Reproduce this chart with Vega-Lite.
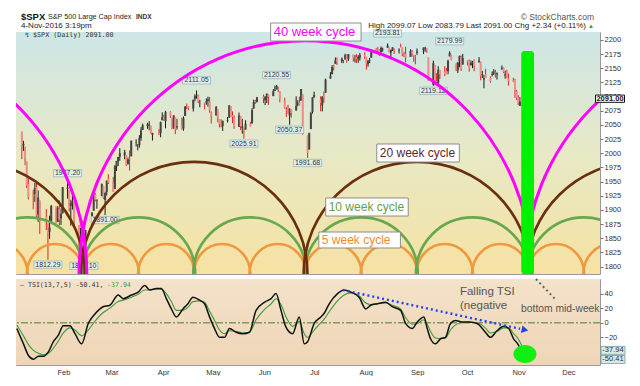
{
"$schema": "https://vega.github.io/schema/vega-lite/v6.json",
"background": "white",
"padding": {"left": 13, "top": 11, "right": 0, "bottom": 0},
"spacing": 2,
"config": {
  "font": "Liberation Sans",
  "view": {"stroke": "#9a9a9a", "strokeWidth": 1},
  "axis": {"labelFont": "Liberation Sans", "labelFontSize": 7.5, "labelColor": "#333333", "tickColor": "#777777", "domain": false, "title": null, "gridColor": "#9c9c9c", "gridDash": [1, 2], "gridOpacity": 0.55, "labelOverlap": false}
},
"datasets": {
  "px": [
{"d":"2016-01-04","o":2038.2,"h":2038.2,"l":1989.68,"c":2012.66},
{"d":"2016-01-05","o":2013.78,"h":2021.94,"l":2004.17,"c":2016.71},
{"d":"2016-01-06","o":2011.71,"h":2011.71,"l":1979.05,"c":1990.26},
{"d":"2016-01-07","o":1985.32,"h":1985.32,"l":1938.83,"c":1943.09},
{"d":"2016-01-08","o":1945.97,"h":1960.4,"l":1918.46,"c":1922.03},
{"d":"2016-01-11","o":1926.12,"h":1935.65,"l":1901.1,"c":1923.67},
{"d":"2016-01-12","o":1927.83,"h":1947.38,"l":1914.35,"c":1938.68},
{"d":"2016-01-13","o":1940.34,"h":1950.33,"l":1886.41,"c":1890.28},
{"d":"2016-01-14","o":1891.68,"h":1934.47,"l":1878.93,"c":1921.84},
{"d":"2016-01-15","o":1916.68,"h":1916.68,"l":1857.83,"c":1880.33},
{"d":"2016-01-19","o":1888.66,"h":1901.44,"l":1864.6,"c":1881.33},
{"d":"2016-01-20","o":1876.18,"h":1876.18,"l":1812.29,"c":1859.33},
{"d":"2016-01-21","o":1861.46,"h":1889.85,"l":1848.98,"c":1868.99},
{"d":"2016-01-22","o":1877.4,"h":1908.85,"l":1877.4,"c":1906.9},
{"d":"2016-01-25","o":1906.28,"h":1906.28,"l":1875.97,"c":1877.08},
{"d":"2016-01-26","o":1878.79,"h":1906.73,"l":1878.79,"c":1903.63},
{"d":"2016-01-27","o":1902.52,"h":1916.99,"l":1872.7,"c":1882.95},
{"d":"2016-01-28","o":1885.22,"h":1902.96,"l":1873.65,"c":1893.36},
{"d":"2016-01-29","o":1894.0,"h":1940.24,"l":1894.0,"c":1940.24},
{"d":"2016-02-01","o":1936.94,"h":1947.2,"l":1920.03,"c":1939.38},
{"d":"2016-02-02","o":1935.26,"h":1935.26,"l":1897.29,"c":1903.03},
{"d":"2016-02-03","o":1907.07,"h":1918.01,"l":1872.23,"c":1912.53},
{"d":"2016-02-04","o":1911.67,"h":1927.35,"l":1900.52,"c":1915.45},
{"d":"2016-02-05","o":1913.07,"h":1913.07,"l":1872.65,"c":1880.05},
{"d":"2016-02-08","o":1873.25,"h":1873.25,"l":1828.46,"c":1853.44},
{"d":"2016-02-09","o":1848.46,"h":1868.25,"l":1834.94,"c":1852.21},
{"d":"2016-02-10","o":1857.1,"h":1881.6,"l":1850.32,"c":1851.86},
{"d":"2016-02-11","o":1847.0,"h":1847.0,"l":1810.1,"c":1829.08},
{"d":"2016-02-12","o":1833.4,"h":1864.78,"l":1833.4,"c":1864.78},
{"d":"2016-02-16","o":1871.44,"h":1895.77,"l":1871.44,"c":1895.58},
{"d":"2016-02-17","o":1898.8,"h":1930.68,"l":1898.8,"c":1926.82},
{"d":"2016-02-18","o":1927.57,"h":1930.0,"l":1915.09,"c":1917.83},
{"d":"2016-02-19","o":1916.74,"h":1918.78,"l":1902.17,"c":1917.78},
{"d":"2016-02-22","o":1924.44,"h":1946.7,"l":1924.44,"c":1945.5},
{"d":"2016-02-23","o":1942.38,"h":1942.38,"l":1919.44,"c":1921.27},
{"d":"2016-02-24","o":1917.56,"h":1932.08,"l":1891.0,"c":1929.8},
{"d":"2016-02-25","o":1931.87,"h":1951.83,"l":1925.41,"c":1951.7},
{"d":"2016-02-26","o":1954.95,"h":1962.96,"l":1945.78,"c":1948.05},
{"d":"2016-02-29","o":1947.13,"h":1958.27,"l":1931.81,"c":1932.23},
{"d":"2016-03-01","o":1937.09,"h":1978.35,"l":1937.09,"c":1978.35},
{"d":"2016-03-02","o":1976.6,"h":1986.51,"l":1968.8,"c":1986.45},
{"d":"2016-03-03","o":1985.6,"h":1993.69,"l":1977.37,"c":1993.4},
{"d":"2016-03-04","o":1994.01,"h":2009.13,"l":1986.77,"c":1999.99},
{"d":"2016-03-07","o":1996.11,"h":2006.12,"l":1989.38,"c":2001.76},
{"d":"2016-03-08","o":1996.88,"h":1996.88,"l":1977.43,"c":1979.26},
{"d":"2016-03-09","o":1981.44,"h":1992.69,"l":1979.84,"c":1989.26},
{"d":"2016-03-10","o":1990.97,"h":2005.08,"l":1969.25,"c":1989.57},
{"d":"2016-03-11","o":1994.71,"h":2022.37,"l":1994.71,"c":2022.19},
{"d":"2016-03-14","o":2019.27,"h":2024.57,"l":2012.05,"c":2019.64},
{"d":"2016-03-15","o":2015.27,"h":2015.94,"l":2005.23,"c":2015.93},
{"d":"2016-03-16","o":2014.24,"h":2032.02,"l":2010.04,"c":2027.22},
{"d":"2016-03-17","o":2026.9,"h":2046.24,"l":2022.16,"c":2040.59},
{"d":"2016-03-18","o":2041.16,"h":2052.36,"l":2041.16,"c":2049.58},
{"d":"2016-03-21","o":2047.88,"h":2053.91,"l":2043.14,"c":2051.6},
{"d":"2016-03-22","o":2048.64,"h":2056.6,"l":2040.57,"c":2049.8},
{"d":"2016-03-23","o":2048.55,"h":2048.55,"l":2034.86,"c":2036.71},
{"d":"2016-03-24","o":2032.48,"h":2036.04,"l":2022.49,"c":2035.94},
{"d":"2016-03-28","o":2037.89,"h":2042.67,"l":2031.96,"c":2037.05},
{"d":"2016-03-29","o":2035.75,"h":2055.91,"l":2028.31,"c":2055.01},
{"d":"2016-03-30","o":2058.27,"h":2072.21,"l":2058.27,"c":2063.95},
{"d":"2016-03-31","o":2063.77,"h":2067.92,"l":2057.46,"c":2059.74},
{"d":"2016-04-01","o":2056.62,"h":2075.07,"l":2043.98,"c":2072.78},
{"d":"2016-04-04","o":2073.19,"h":2074.02,"l":2062.57,"c":2066.13},
{"d":"2016-04-05","o":2062.5,"h":2062.5,"l":2042.56,"c":2045.17},
{"d":"2016-04-06","o":2045.56,"h":2067.33,"l":2043.09,"c":2066.66},
{"d":"2016-04-07","o":2063.01,"h":2063.01,"l":2033.8,"c":2041.91},
{"d":"2016-04-08","o":2045.54,"h":2060.63,"l":2041.69,"c":2047.6},
{"d":"2016-04-11","o":2050.23,"h":2062.93,"l":2041.88,"c":2041.99},
{"d":"2016-04-12","o":2043.72,"h":2065.05,"l":2039.74,"c":2061.72},
{"d":"2016-04-13","o":2065.92,"h":2083.18,"l":2065.92,"c":2082.42},
{"d":"2016-04-14","o":2082.89,"h":2087.84,"l":2078.13,"c":2082.78},
{"d":"2016-04-15","o":2083.1,"h":2083.22,"l":2076.31,"c":2080.73},
{"d":"2016-04-18","o":2078.83,"h":2094.66,"l":2073.65,"c":2094.34},
{"d":"2016-04-19","o":2096.05,"h":2104.05,"l":2091.68,"c":2100.8},
{"d":"2016-04-20","o":2101.52,"h":2111.05,"l":2096.32,"c":2102.4},
{"d":"2016-04-21","o":2102.09,"h":2103.78,"l":2088.52,"c":2091.48},
{"d":"2016-04-22","o":2091.49,"h":2094.32,"l":2081.2,"c":2091.58},
{"d":"2016-04-25","o":2089.37,"h":2089.37,"l":2077.52,"c":2087.79},
{"d":"2016-04-26","o":2089.84,"h":2096.87,"l":2085.8,"c":2091.7},
{"d":"2016-04-27","o":2092.57,"h":2099.89,"l":2082.31,"c":2095.15},
{"d":"2016-04-28","o":2090.93,"h":2099.3,"l":2071.62,"c":2075.81},
{"d":"2016-04-29","o":2071.82,"h":2073.85,"l":2052.28,"c":2065.3},
{"d":"2016-05-02","o":2067.17,"h":2083.42,"l":2066.11,"c":2081.43},
{"d":"2016-05-03","o":2077.18,"h":2077.18,"l":2054.89,"c":2063.37},
{"d":"2016-05-04","o":2060.3,"h":2060.3,"l":2045.55,"c":2051.12},
{"d":"2016-05-05","o":2052.95,"h":2060.23,"l":2045.77,"c":2050.63},
{"d":"2016-05-06","o":2047.77,"h":2057.72,"l":2039.45,"c":2057.14},
{"d":"2016-05-09","o":2057.55,"h":2064.15,"l":2054.31,"c":2058.69},
{"d":"2016-05-10","o":2062.63,"h":2084.87,"l":2062.63,"c":2084.39},
{"d":"2016-05-11","o":2083.29,"h":2083.29,"l":2064.46,"c":2064.46},
{"d":"2016-05-12","o":2067.17,"h":2073.99,"l":2053.13,"c":2064.11},
{"d":"2016-05-13","o":2062.5,"h":2066.79,"l":2043.13,"c":2046.61},
{"d":"2016-05-16","o":2046.53,"h":2071.88,"l":2046.53,"c":2066.66},
{"d":"2016-05-17","o":2065.04,"h":2065.69,"l":2040.82,"c":2047.21},
{"d":"2016-05-18","o":2044.38,"h":2060.61,"l":2034.49,"c":2047.63},
{"d":"2016-05-19","o":2044.21,"h":2044.21,"l":2025.91,"c":2040.04},
{"d":"2016-05-20","o":2041.88,"h":2058.35,"l":2041.88,"c":2052.32},
{"d":"2016-05-23","o":2052.23,"h":2055.58,"l":2047.26,"c":2048.04},
{"d":"2016-05-24","o":2052.65,"h":2079.67,"l":2052.65,"c":2076.06},
{"d":"2016-05-25","o":2078.93,"h":2094.73,"l":2078.93,"c":2090.54},
{"d":"2016-05-26","o":2091.44,"h":2094.3,"l":2087.08,"c":2090.1},
{"d":"2016-05-27","o":2090.06,"h":2099.06,"l":2090.06,"c":2099.06},
{"d":"2016-05-31","o":2100.13,"h":2103.48,"l":2088.66,"c":2096.95},
{"d":"2016-06-01","o":2093.94,"h":2100.97,"l":2085.1,"c":2099.33},
{"d":"2016-06-02","o":2097.71,"h":2105.26,"l":2088.59,"c":2105.26},
{"d":"2016-06-03","o":2104.07,"h":2104.07,"l":2085.36,"c":2099.13},
{"d":"2016-06-06","o":2100.83,"h":2113.36,"l":2100.83,"c":2109.41},
{"d":"2016-06-07","o":2110.18,"h":2119.22,"l":2110.18,"c":2112.13},
{"d":"2016-06-08","o":2112.71,"h":2120.55,"l":2112.71,"c":2119.12},
{"d":"2016-06-09","o":2115.65,"h":2117.64,"l":2107.73,"c":2115.48},
{"d":"2016-06-10","o":2109.57,"h":2109.57,"l":2089.96,"c":2096.07},
{"d":"2016-06-13","o":2091.75,"h":2098.12,"l":2078.46,"c":2079.06},
{"d":"2016-06-14","o":2076.65,"h":2081.3,"l":2064.1,"c":2075.32},
{"d":"2016-06-15","o":2077.6,"h":2085.65,"l":2069.8,"c":2071.5},
{"d":"2016-06-16","o":2066.36,"h":2079.62,"l":2050.37,"c":2077.99},
{"d":"2016-06-17","o":2078.2,"h":2078.2,"l":2062.84,"c":2071.22},
{"d":"2016-06-20","o":2075.58,"h":2100.66,"l":2075.58,"c":2083.25},
{"d":"2016-06-21","o":2085.19,"h":2093.66,"l":2083.02,"c":2088.9},
{"d":"2016-06-22","o":2089.75,"h":2099.71,"l":2084.36,"c":2085.45},
{"d":"2016-06-23","o":2092.8,"h":2113.32,"l":2092.8,"c":2113.32},
{"d":"2016-06-24","o":2103.81,"h":2103.81,"l":2032.57,"c":2037.41},
{"d":"2016-06-27","o":2031.45,"h":2031.45,"l":1991.68,"c":2000.54},
{"d":"2016-06-28","o":2006.67,"h":2036.09,"l":2006.67,"c":2036.09},
{"d":"2016-06-29","o":2042.69,"h":2073.13,"l":2042.69,"c":2070.77},
{"d":"2016-06-30","o":2073.17,"h":2098.94,"l":2070.0,"c":2098.86},
{"d":"2016-07-01","o":2099.34,"h":2108.71,"l":2097.9,"c":2102.95},
{"d":"2016-07-05","o":2095.05,"h":2100.72,"l":2074.02,"c":2088.55},
{"d":"2016-07-06","o":2084.43,"h":2100.72,"l":2074.02,"c":2099.73},
{"d":"2016-07-07","o":2100.42,"h":2109.08,"l":2089.39,"c":2097.9},
{"d":"2016-07-08","o":2106.97,"h":2131.71,"l":2106.97,"c":2129.9},
{"d":"2016-07-11","o":2131.72,"h":2143.16,"l":2131.72,"c":2137.16},
{"d":"2016-07-12","o":2139.5,"h":2155.4,"l":2139.5,"c":2152.14},
{"d":"2016-07-13","o":2153.81,"h":2156.45,"l":2146.21,"c":2152.43},
{"d":"2016-07-14","o":2157.88,"h":2169.05,"l":2157.88,"c":2163.75},
{"d":"2016-07-15","o":2165.13,"h":2169.05,"l":2155.79,"c":2161.74},
{"d":"2016-07-18","o":2162.04,"h":2168.99,"l":2159.07,"c":2166.89},
{"d":"2016-07-19","o":2163.79,"h":2164.63,"l":2159.01,"c":2163.78},
{"d":"2016-07-20","o":2166.1,"h":2175.63,"l":2164.89,"c":2173.02},
{"d":"2016-07-21","o":2172.91,"h":2174.56,"l":2159.75,"c":2165.17},
{"d":"2016-07-22","o":2166.47,"h":2175.11,"l":2163.24,"c":2175.03},
{"d":"2016-07-25","o":2173.71,"h":2173.71,"l":2161.95,"c":2168.48},
{"d":"2016-07-26","o":2168.97,"h":2173.54,"l":2160.18,"c":2169.18},
{"d":"2016-07-27","o":2169.81,"h":2174.98,"l":2159.07,"c":2166.58},
{"d":"2016-07-28","o":2166.05,"h":2172.85,"l":2159.74,"c":2170.06},
{"d":"2016-07-29","o":2168.83,"h":2177.09,"l":2163.49,"c":2173.6},
{"d":"2016-08-01","o":2173.15,"h":2178.29,"l":2166.21,"c":2170.84},
{"d":"2016-08-02","o":2169.94,"h":2170.2,"l":2147.58,"c":2157.03},
{"d":"2016-08-03","o":2156.81,"h":2163.79,"l":2152.7,"c":2163.79},
{"d":"2016-08-04","o":2163.51,"h":2168.19,"l":2159.07,"c":2164.25},
{"d":"2016-08-05","o":2168.79,"h":2182.87,"l":2168.79,"c":2182.87},
{"d":"2016-08-08","o":2183.76,"h":2185.44,"l":2177.85,"c":2180.89},
{"d":"2016-08-09","o":2182.24,"h":2187.66,"l":2178.61,"c":2181.74},
{"d":"2016-08-10","o":2182.81,"h":2183.41,"l":2172.0,"c":2175.49},
{"d":"2016-08-11","o":2177.97,"h":2188.45,"l":2177.97,"c":2185.79},
{"d":"2016-08-12","o":2183.74,"h":2186.28,"l":2179.42,"c":2184.05},
{"d":"2016-08-15","o":2186.08,"h":2193.81,"l":2186.08,"c":2190.15},
{"d":"2016-08-16","o":2186.24,"h":2186.24,"l":2178.14,"c":2178.15},
{"d":"2016-08-17","o":2177.84,"h":2183.08,"l":2168.5,"c":2182.22},
{"d":"2016-08-18","o":2181.9,"h":2187.03,"l":2180.46,"c":2187.02},
{"d":"2016-08-19","o":2184.24,"h":2185.0,"l":2175.13,"c":2183.87},
{"d":"2016-08-22","o":2181.58,"h":2185.15,"l":2175.96,"c":2182.64},
{"d":"2016-08-23","o":2187.81,"h":2193.42,"l":2186.8,"c":2186.9},
{"d":"2016-08-24","o":2185.09,"h":2186.66,"l":2171.25,"c":2175.44},
{"d":"2016-08-25","o":2173.29,"h":2179.0,"l":2169.74,"c":2172.47},
{"d":"2016-08-26","o":2175.1,"h":2187.94,"l":2160.39,"c":2169.04},
{"d":"2016-08-29","o":2170.19,"h":2183.48,"l":2170.19,"c":2180.38},
{"d":"2016-08-30","o":2179.45,"h":2182.27,"l":2170.41,"c":2176.12},
{"d":"2016-08-31","o":2173.56,"h":2173.79,"l":2161.35,"c":2170.95},
{"d":"2016-09-01","o":2171.33,"h":2173.56,"l":2157.09,"c":2170.86},
{"d":"2016-09-02","o":2177.49,"h":2184.87,"l":2173.59,"c":2179.98},
{"d":"2016-09-06","o":2181.61,"h":2186.57,"l":2175.1,"c":2186.48},
{"d":"2016-09-07","o":2185.17,"h":2187.87,"l":2179.07,"c":2186.16},
{"d":"2016-09-08","o":2182.76,"h":2184.94,"l":2177.49,"c":2181.3},
{"d":"2016-09-09","o":2169.08,"h":2169.08,"l":2127.81,"c":2127.81},
{"d":"2016-09-12","o":2120.86,"h":2163.3,"l":2119.12,"c":2159.04},
{"d":"2016-09-13","o":2155.81,"h":2155.81,"l":2119.87,"c":2127.02},
{"d":"2016-09-14","o":2127.86,"h":2141.33,"l":2118.79,"c":2125.77},
{"d":"2016-09-15","o":2124.12,"h":2153.61,"l":2121.69,"c":2147.26},
{"d":"2016-09-16","o":2146.48,"h":2146.48,"l":2131.2,"c":2139.16},
{"d":"2016-09-19","o":2143.99,"h":2153.61,"l":2135.91,"c":2139.12},
{"d":"2016-09-20","o":2145.94,"h":2150.8,"l":2139.17,"c":2139.76},
{"d":"2016-09-21","o":2144.58,"h":2165.11,"l":2139.57,"c":2163.12},
{"d":"2016-09-22","o":2170.94,"h":2179.99,"l":2170.94,"c":2177.18},
{"d":"2016-09-23","o":2173.29,"h":2173.75,"l":2163.97,"c":2164.69},
{"d":"2016-09-26","o":2158.54,"h":2158.54,"l":2145.04,"c":2146.1},
{"d":"2016-09-27","o":2146.04,"h":2161.13,"l":2141.55,"c":2159.93},
{"d":"2016-09-28","o":2161.85,"h":2172.4,"l":2151.79,"c":2171.37},
{"d":"2016-09-29","o":2168.9,"h":2172.67,"l":2145.2,"c":2151.13},
{"d":"2016-09-30","o":2156.51,"h":2175.3,"l":2156.51,"c":2168.27},
{"d":"2016-10-03","o":2164.33,"h":2164.41,"l":2154.77,"c":2161.2},
{"d":"2016-10-04","o":2163.37,"h":2165.46,"l":2144.01,"c":2150.49},
{"d":"2016-10-05","o":2155.15,"h":2163.95,"l":2155.15,"c":2159.73},
{"d":"2016-10-06","o":2158.22,"h":2162.93,"l":2150.28,"c":2160.77},
{"d":"2016-10-07","o":2164.19,"h":2165.86,"l":2144.85,"c":2153.74},
{"d":"2016-10-10","o":2160.39,"h":2169.6,"l":2160.39,"c":2163.66},
{"d":"2016-10-11","o":2161.35,"h":2161.56,"l":2128.84,"c":2136.73},
{"d":"2016-10-12","o":2137.67,"h":2145.36,"l":2132.77,"c":2139.18},
{"d":"2016-10-13","o":2130.26,"h":2138.19,"l":2114.72,"c":2132.55},
{"d":"2016-10-14","o":2139.68,"h":2149.19,"l":2132.98,"c":2132.98},
{"d":"2016-10-17","o":2132.95,"h":2135.61,"l":2124.43,"c":2126.5},
{"d":"2016-10-18","o":2138.31,"h":2144.38,"l":2135.49,"c":2139.6},
{"d":"2016-10-19","o":2140.81,"h":2148.44,"l":2138.15,"c":2144.29},
{"d":"2016-10-20","o":2142.51,"h":2147.18,"l":2133.44,"c":2141.34},
{"d":"2016-10-21","o":2139.43,"h":2142.63,"l":2130.09,"c":2141.16},
{"d":"2016-10-24","o":2148.5,"h":2154.79,"l":2146.91,"c":2151.33},
{"d":"2016-10-25","o":2151.16,"h":2151.44,"l":2141.54,"c":2143.16},
{"d":"2016-10-26","o":2136.97,"h":2145.73,"l":2131.59,"c":2139.43},
{"d":"2016-10-27","o":2144.06,"h":2147.13,"l":2132.52,"c":2133.04},
{"d":"2016-10-28","o":2132.23,"h":2140.72,"l":2119.36,"c":2126.41},
{"d":"2016-10-31","o":2129.78,"h":2133.25,"l":2125.53,"c":2126.15},
{"d":"2016-11-01","o":2128.68,"h":2131.45,"l":2097.85,"c":2111.72},
{"d":"2016-11-02","o":2109.43,"h":2111.76,"l":2094.0,"c":2097.94},
{"d":"2016-11-03","o":2098.8,"h":2102.56,"l":2085.23,"c":2088.66},
{"d":"2016-11-04","o":2083.79,"h":2099.07,"l":2083.79,"c":2091.0}
  ],
  "pivots": [
{"d":"2016-02-01","v":1947.2,"kind":"high"},
{"d":"2016-04-20","v":2111.05,"kind":"high"},
{"d":"2016-06-08","v":2120.55,"kind":"high"},
{"d":"2016-08-15","v":2193.81,"kind":"high"},
{"d":"2016-09-22","v":2179.99,"kind":"high"},
{"d":"2016-01-20","v":1812.29,"kind":"low"},
{"d":"2016-02-11","v":1810.1,"kind":"low"},
{"d":"2016-02-24","v":1891.0,"kind":"low"},
{"d":"2016-05-19","v":2025.91,"kind":"low"},
{"d":"2016-06-16","v":2050.37,"kind":"low"},
{"d":"2016-06-27","v":1991.68,"kind":"low"},
{"d":"2016-09-12","v":2119.12,"kind":"low"}
  ],
  "cycles": [
{"cycle":"5 week","peak":"2015-12-21T06:00Z"},
{"cycle":"5 week","peak":"2016-01-24T09:00Z"},
{"cycle":"5 week","peak":"2016-02-27T11:00Z"},
{"cycle":"5 week","peak":"2016-04-01T12:00Z"},
{"cycle":"5 week","peak":"2016-05-05T15:00Z"},
{"cycle":"5 week","peak":"2016-06-08T17:00Z"},
{"cycle":"5 week","peak":"2016-07-12T18:00Z"},
{"cycle":"5 week","peak":"2016-08-15T20:00Z"},
{"cycle":"5 week","peak":"2016-09-18T23:00Z"},
{"cycle":"5 week","peak":"2016-10-23T01:00Z"},
{"cycle":"5 week","peak":"2016-11-26T02:00Z"},
{"cycle":"5 week","peak":"2016-12-30T04:00Z"},
{"cycle":"10 week","peak":"2016-01-07T08:00Z"},
{"cycle":"10 week","peak":"2016-03-15T12:00Z"},
{"cycle":"10 week","peak":"2016-05-22T16:00Z"},
{"cycle":"10 week","peak":"2016-07-29T20:00Z"},
{"cycle":"10 week","peak":"2016-10-06T00:00Z"},
{"cycle":"10 week","peak":"2016-12-13T04:00Z"},
{"cycle":"20 week","peak":"2015-12-04T06:00Z"},
{"cycle":"20 week","peak":"2016-04-18T14:00Z"},
{"cycle":"20 week","peak":"2016-09-01T22:00Z"},
{"cycle":"20 week","peak":"2017-01-16T05:00Z"},
{"cycle":"40 week","peak":"2015-09-27T02:00Z"},
{"cycle":"40 week","peak":"2016-06-25T18:00Z"},
{"cycle":"40 week","peak":"2017-03-25T09:00Z"}
  ],
  "tsi": [
{"d":"2016-01-04","tsi":-8,"sig":-3},
{"d":"2016-01-08","tsi":-29,"sig":-18},
{"d":"2016-01-11","tsi":-45,"sig":-30},
{"d":"2016-01-14","tsi":-50,"sig":-38},
{"d":"2016-01-17","tsi":-46,"sig":-42},
{"d":"2016-01-20","tsi":-46,"sig":-44},
{"d":"2016-01-23","tsi":-40,"sig":-42},
{"d":"2016-01-26","tsi":-26,"sig":-35},
{"d":"2016-01-29","tsi":-17,"sig":-25},
{"d":"2016-02-01","tsi":-4,"sig":-14},
{"d":"2016-02-05","tsi":-4,"sig":-7},
{"d":"2016-02-08","tsi":-15,"sig":-10},
{"d":"2016-02-12","tsi":-29,"sig":-18},
{"d":"2016-02-16","tsi":-1,"sig":-10},
{"d":"2016-02-20","tsi":12,"sig":2},
{"d":"2016-02-25","tsi":22,"sig":14},
{"d":"2016-02-29","tsi":24,"sig":20},
{"d":"2016-03-05","tsi":38,"sig":29},
{"d":"2016-03-08","tsi":33,"sig":31},
{"d":"2016-03-13","tsi":38,"sig":35},
{"d":"2016-03-17","tsi":42,"sig":39},
{"d":"2016-03-21","tsi":51,"sig":45},
{"d":"2016-03-24","tsi":45,"sig":45},
{"d":"2016-03-28","tsi":47,"sig":46},
{"d":"2016-03-31","tsi":47,"sig":46},
{"d":"2016-04-03","tsi":33,"sig":40},
{"d":"2016-04-06","tsi":19,"sig":29},
{"d":"2016-04-09","tsi":8,"sig":17},
{"d":"2016-04-13","tsi":19,"sig":17},
{"d":"2016-04-16","tsi":26,"sig":21},
{"d":"2016-04-19","tsi":35,"sig":29},
{"d":"2016-04-23","tsi":31,"sig":30},
{"d":"2016-04-26","tsi":26,"sig":28},
{"d":"2016-04-29","tsi":8,"sig":16},
{"d":"2016-05-02","tsi":-8,"sig":3},
{"d":"2016-05-05","tsi":-20,"sig":-10},
{"d":"2016-05-08","tsi":-20,"sig":-15},
{"d":"2016-05-11","tsi":-8,"sig":-11},
{"d":"2016-05-15","tsi":-13,"sig":-12},
{"d":"2016-05-19","tsi":-15,"sig":-14},
{"d":"2016-05-23","tsi":-13,"sig":-13},
{"d":"2016-05-27","tsi":17,"sig":4},
{"d":"2016-06-01","tsi":28,"sig":18},
{"d":"2016-06-05","tsi":33,"sig":26},
{"d":"2016-06-08","tsi":40,"sig":33},
{"d":"2016-06-11","tsi":17,"sig":25},
{"d":"2016-06-14","tsi":-6,"sig":8},
{"d":"2016-06-18","tsi":-15,"sig":-5},
{"d":"2016-06-22","tsi":8,"sig":2},
{"d":"2016-06-25","tsi":-29,"sig":-15},
{"d":"2016-06-27","tsi":-26,"sig":-20},
{"d":"2016-07-01","tsi":-1,"sig":-10},
{"d":"2016-07-05","tsi":8,"sig":0},
{"d":"2016-07-07","tsi":13,"sig":5},
{"d":"2016-07-10","tsi":26,"sig":15},
{"d":"2016-07-15","tsi":40,"sig":30},
{"d":"2016-07-19","tsi":45,"sig":38},
{"d":"2016-07-23","tsi":42,"sig":41},
{"d":"2016-07-28","tsi":35,"sig":37},
{"d":"2016-08-01","tsi":19,"sig":27},
{"d":"2016-08-04","tsi":24,"sig":25},
{"d":"2016-08-08","tsi":26,"sig":26},
{"d":"2016-08-13","tsi":28,"sig":27},
{"d":"2016-08-17","tsi":22,"sig":24},
{"d":"2016-08-22","tsi":17,"sig":19},
{"d":"2016-08-25","tsi":-1,"sig":7},
{"d":"2016-08-29","tsi":-8,"sig":-2},
{"d":"2016-09-01","tsi":1,"sig":-1},
{"d":"2016-09-05","tsi":8,"sig":4},
{"d":"2016-09-07","tsi":-8,"sig":-2},
{"d":"2016-09-09","tsi":-22,"sig":-12},
{"d":"2016-09-12","tsi":-29,"sig":-21},
{"d":"2016-09-15","tsi":-22,"sig":-22},
{"d":"2016-09-18","tsi":-20,"sig":-21},
{"d":"2016-09-21","tsi":-1,"sig":-10},
{"d":"2016-09-24","tsi":3,"sig":-3},
{"d":"2016-09-28","tsi":1,"sig":0},
{"d":"2016-10-02","tsi":1,"sig":1},
{"d":"2016-10-07","tsi":-1,"sig":0},
{"d":"2016-10-12","tsi":-13,"sig":-7},
{"d":"2016-10-15","tsi":-20,"sig":-14},
{"d":"2016-10-19","tsi":-11,"sig":-12},
{"d":"2016-10-23","tsi":-5,"sig":-7},
{"d":"2016-10-26","tsi":-8,"sig":-7},
{"d":"2016-10-29","tsi":-22,"sig":-15},
{"d":"2016-11-01","tsi":-31,"sig":-23},
{"d":"2016-11-03","tsi":-43,"sig":-32},
{"d":"2016-11-04","tsi":-50.41,"sig":-37.94}
  ]
},
"vconcat": [
{
  "width": 584,
  "height": 242,
  "resolve": {"axis": {"x": "independent", "y": "independent"}},
  "layer": [
    {
      "data": {"values": [{}]},
      "mark": {"type": "rect", "fill": {"gradient": "linear", "x1": 0, "y1": 0, "x2": 0, "y2": 1, "stops": [{"offset": 0, "color": "#cde6e6"}, {"offset": 0.5, "color": "#e7e9c6"}, {"offset": 1, "color": "#f6e2a2"}]}}
    },
    {
      "data": {"name": "px"},
      "mark": {"type": "rule", "strokeWidth": 1, "clip": true},
      "encoding": {
        "x": {"field": "d", "type": "temporal", "scale": {"type": "utc", "domain": [{"year": 2016, "month": 1, "date": 3, "hours": 12, "utc": true}, {"year": 2016, "month": 12, "date": 20, "utc": true}]}, "axis": {"orient": "bottom", "labels": false, "ticks": false, "grid": true, "tickCount": {"interval": "day", "step": 10}}},
        "y": {"field": "l", "type": "quantitative", "scale": {"domain": [1787, 2214], "nice": false, "zero": false}, "axis": {"orient": "right", "values": [1800, 1825, 1850, 1875, 1900, 1925, 1950, 1975, 2000, 2025, 2050, 2075, 2100, 2125, 2150, 2175, 2200], "format": "d", "labelOverlap": false, "labelFlush": false, "grid": true, "tickSize": 3, "labelPadding": 1}},
        "y2": {"field": "h"},
        "color": {"condition": {"test": "datum.c >= datum.o", "value": "#1a1a1a"}, "value": "#e3231c"}
      }
    },
    {
      "data": {"name": "px"},
      "mark": {"type": "bar", "size": 2, "clip": true},
      "encoding": {
        "x": {"field": "d", "type": "temporal", "axis": null},
        "y": {"field": "o", "type": "quantitative", "axis": null},
        "y2": {"field": "c"},
        "color": {"condition": {"test": "datum.c >= datum.o", "value": "#444444"}, "value": "#ef8f86"}
      }
    },
    {
      "data": {"name": "pivots"},
      "transform": [{"filter": "datum.kind == 'high'"}],
      "mark": {"type": "point", "shape": "M-1,-0.26H1V0.26H-1Z", "size": 784, "filled": true, "fill": "#e2eef0", "stroke": "#8fb0b8", "strokeWidth": 0.7, "opacity": 1, "yOffset": -10},
      "encoding": {"x": {"field": "d", "type": "temporal", "axis": null}, "y": {"field": "v", "type": "quantitative", "axis": null}}
    },
    {
      "data": {"name": "pivots"},
      "transform": [{"filter": "datum.kind == 'high'"}],
      "mark": {"type": "text", "fontSize": 7, "color": "#333333", "align": "center", "baseline": "middle", "yOffset": -10},
      "encoding": {"x": {"field": "d", "type": "temporal", "axis": null}, "y": {"field": "v", "type": "quantitative", "axis": null}, "text": {"field": "v", "type": "quantitative", "format": ".2f"}}
    },
    {
      "data": {"name": "pivots"},
      "transform": [{"filter": "datum.kind == 'low'"}],
      "mark": {"type": "point", "shape": "M-1,-0.26H1V0.26H-1Z", "size": 784, "filled": true, "fill": "#e2eef0", "stroke": "#8fb0b8", "strokeWidth": 0.7, "opacity": 1, "yOffset": 5},
      "encoding": {"x": {"field": "d", "type": "temporal", "axis": null}, "y": {"field": "v", "type": "quantitative", "axis": null}}
    },
    {
      "data": {"name": "pivots"},
      "transform": [{"filter": "datum.kind == 'low'"}],
      "mark": {"type": "text", "fontSize": 7, "color": "#333333", "align": "center", "baseline": "middle", "yOffset": 5},
      "encoding": {"x": {"field": "d", "type": "temporal", "axis": null}, "y": {"field": "v", "type": "quantitative", "axis": null}, "text": {"field": "v", "type": "quantitative", "format": ".2f"}}
    },
    {
      "data": {"name": "cycles"},
      "transform": [{"filter": "datum.cycle == '5 week'"}],
      "mark": {"type": "point", "shape": "M-1,0A1,1.06 0 0 1 1,0", "size": 3206, "filled": false, "stroke": "#f0983e", "strokeWidth": 2.6, "opacity": 1, "clip": true},
      "encoding": {"x": {"field": "peak", "type": "temporal", "axis": null}, "y": {"datum": 1787, "type": "quantitative", "axis": null}}
    },
    {
      "data": {"name": "cycles"},
      "transform": [{"filter": "datum.cycle == '10 week'"}],
      "mark": {"type": "point", "shape": "M-1,0A1,1.0 0 0 1 1,0", "size": 12826, "filled": false, "stroke": "#66a84c", "strokeWidth": 2.6, "opacity": 1, "clip": true},
      "encoding": {"x": {"field": "peak", "type": "temporal", "axis": null}, "y": {"datum": 1787, "type": "quantitative", "axis": null}}
    },
    {
      "data": {"name": "cycles"},
      "transform": [{"filter": "datum.cycle == '20 week'"}],
      "mark": {"type": "point", "shape": "M-1,0A1,0.99 0 0 1 1,0", "size": 51302, "filled": false, "stroke": "#6a2f0c", "strokeWidth": 2.6, "opacity": 1, "clip": true},
      "encoding": {"x": {"field": "peak", "type": "temporal", "axis": null}, "y": {"datum": 1787, "type": "quantitative", "axis": null}}
    },
    {
      "data": {"name": "cycles"},
      "transform": [{"filter": "datum.cycle == '40 week'"}],
      "mark": {"type": "point", "shape": "M-1,0A1,1.03 0 0 1 1,0", "size": 205209, "filled": false, "stroke": "#ff00ff", "strokeWidth": 3, "opacity": 1, "clip": true},
      "encoding": {"x": {"field": "peak", "type": "temporal", "axis": null}, "y": {"datum": 1787, "type": "quantitative", "axis": null}}
    },
    {
      "data": {"values": [{}]},
      "mark": {"type": "rect", "fill": "#00f000", "cornerRadius": 3, "clip": true},
      "encoding": {
        "x": {"datum": {"year": 2016, "month": 11, "date": 4, "hours": 20, "utc": true}, "type": "temporal", "axis": null},
        "x2": {"datum": {"year": 2016, "month": 11, "date": 12, "hours": 16, "utc": true}},
        "y": {"datum": 2180.5, "type": "quantitative", "axis": null},
        "y2": {"datum": 1787}
      }
    },
    {
      "data": {"values": [{}]},
      "mark": {"type": "rect", "fill": "white", "stroke": "#8c8c8c", "strokeWidth": 1},
      "encoding": {
        "x": {"datum": {"year": 2016, "month": 8, "date": 8, "hours": 9, "utc": true}, "type": "temporal", "axis": null},
        "x2": {"datum": {"year": 2016, "month": 9, "date": 27, "hours": 22, "utc": true}},
        "y": {"datum": 2016.4, "type": "quantitative", "axis": null},
        "y2": {"datum": 1984.6}
      }
    },
    {
      "data": {"values": [{}]},
      "mark": {"type": "text", "fontSize": 12, "color": "#5a2727", "align": "left", "baseline": "middle", "dx": 3},
      "encoding": {
        "x": {"datum": {"year": 2016, "month": 8, "date": 8, "hours": 9, "utc": true}, "type": "temporal", "axis": null},
        "y": {"datum": 2000.5, "type": "quantitative", "axis": null},
        "text": {"value": "20 week cycle"}
      }
    },
    {
      "data": {"values": [{}]},
      "mark": {"type": "rect", "fill": "white", "stroke": "#8c8c8c", "strokeWidth": 1},
      "encoding": {
        "x": {"datum": {"year": 2016, "month": 7, "date": 8, "hours": 2, "utc": true}, "type": "temporal", "axis": null},
        "x2": {"datum": {"year": 2016, "month": 8, "date": 27, "hours": 15, "utc": true}},
        "y": {"datum": 1921.1, "type": "quantitative", "axis": null},
        "y2": {"datum": 1889.3}
      }
    },
    {
      "data": {"values": [{}]},
      "mark": {"type": "text", "fontSize": 12, "color": "#5f9f47", "align": "left", "baseline": "middle", "dx": 3},
      "encoding": {
        "x": {"datum": {"year": 2016, "month": 7, "date": 8, "hours": 2, "utc": true}, "type": "temporal", "axis": null},
        "y": {"datum": 1905.2, "type": "quantitative", "axis": null},
        "text": {"value": "10 week cycle"}
      }
    },
    {
      "data": {"values": [{}]},
      "mark": {"type": "rect", "fill": "white", "stroke": "#8c8c8c", "strokeWidth": 1},
      "encoding": {
        "x": {"datum": {"year": 2016, "month": 7, "date": 3, "hours": 21, "utc": true}, "type": "temporal", "axis": null},
        "x2": {"datum": {"year": 2016, "month": 8, "date": 22, "hours": 20, "utc": true}},
        "y": {"datum": 1861.1, "type": "quantitative", "axis": null},
        "y2": {"datum": 1832.9}
      }
    },
    {
      "data": {"values": [{}]},
      "mark": {"type": "text", "fontSize": 12, "color": "#ee8a33", "align": "left", "baseline": "middle", "dx": 3},
      "encoding": {
        "x": {"datum": {"year": 2016, "month": 7, "date": 3, "hours": 21, "utc": true}, "type": "temporal", "axis": null},
        "y": {"datum": 1847, "type": "quantitative", "axis": null},
        "text": {"value": "5 week cycle"}
      }
    },
    {
      "data": {"values": [{}]},
      "mark": {"type": "text", "fontSize": 9.5, "fontWeight": "bold", "color": "#111111", "align": "left", "baseline": "middle"},
      "encoding": {
        "x": {"datum": {"year": 2016, "month": 1, "date": 3, "hours": 12, "utc": true}, "type": "temporal", "axis": null},
        "y": {"datum": 2240.5, "type": "quantitative", "axis": null},
        "text": {"value": "$SPX"}
      }
    },
    {
      "data": {"values": [{}]},
      "mark": {"type": "text", "fontSize": 7.2, "color": "#222222", "align": "left", "baseline": "middle", "dx": 27},
      "encoding": {
        "x": {"datum": {"year": 2016, "month": 1, "date": 3, "hours": 12, "utc": true}, "type": "temporal", "axis": null},
        "y": {"datum": 2240.5, "type": "quantitative", "axis": null},
        "text": {"value": "S&P 500 Large Cap Index"}
      }
    },
    {
      "data": {"values": [{}]},
      "mark": {"type": "text", "fontSize": 6.5, "fontWeight": "bold", "color": "#333333", "align": "left", "baseline": "middle", "dx": 115},
      "encoding": {
        "x": {"datum": {"year": 2016, "month": 1, "date": 3, "hours": 12, "utc": true}, "type": "temporal", "axis": null},
        "y": {"datum": 2240.5, "type": "quantitative", "axis": null},
        "text": {"value": "INDX"}
      }
    },
    {
      "data": {"values": [{}]},
      "mark": {"type": "text", "fontSize": 8, "color": "#222222", "align": "left", "baseline": "middle"},
      "encoding": {
        "x": {"datum": {"year": 2016, "month": 1, "date": 3, "hours": 12, "utc": true}, "type": "temporal", "axis": null},
        "y": {"datum": 2224.6, "type": "quantitative", "axis": null},
        "text": {"value": "4-Nov-2016 3:19pm"}
      }
    },
    {
      "data": {"values": [{}]},
      "mark": {"type": "text", "fontSize": 8.5, "color": "#555555", "align": "right", "baseline": "middle", "dx": -1},
      "encoding": {
        "x": {"datum": {"year": 2016, "month": 12, "date": 20, "utc": true}, "type": "temporal", "axis": null},
        "y": {"datum": 2240.5, "type": "quantitative", "axis": null},
        "text": {"value": "© StockCharts.com"}
      }
    },
    {
      "data": {"values": [{}]},
      "mark": {"type": "text", "fontSize": 8, "color": "#222222", "align": "right", "baseline": "middle", "dx": -9},
      "encoding": {
        "x": {"datum": {"year": 2016, "month": 12, "date": 20, "utc": true}, "type": "temporal", "axis": null},
        "y": {"datum": 2224.6, "type": "quantitative", "axis": null},
        "text": {"value": "High 2099.07  Low 2083.79  Last 2091.00  Chg +2.34 (+0.11%)"}
      }
    },
    {
      "data": {"values": [{}]},
      "mark": {"type": "text", "fontSize": 6, "color": "#2e9e2e", "align": "right", "baseline": "middle", "dx": -1},
      "encoding": {
        "x": {"datum": {"year": 2016, "month": 12, "date": 20, "utc": true}, "type": "temporal", "axis": null},
        "y": {"datum": 2224.6, "type": "quantitative", "axis": null},
        "text": {"value": "▲"}
      }
    },
    {
      "data": {"values": [{}]},
      "mark": {"type": "rect", "fill": "white", "stroke": "#8c8c8c", "strokeWidth": 1},
      "encoding": {
        "x": {"datum": {"year": 2016, "month": 6, "date": 4, "hours": 9, "utc": true}, "type": "temporal", "axis": null},
        "x2": {"datum": {"year": 2016, "month": 7, "date": 29, "hours": 18, "utc": true}},
        "y": {"datum": 2229.9, "type": "quantitative", "axis": null},
        "y2": {"datum": 2198.1}
      }
    },
    {
      "data": {"values": [{}]},
      "mark": {"type": "text", "fontSize": 13, "color": "#ff00ff", "align": "left", "baseline": "middle", "dx": 3},
      "encoding": {
        "x": {"datum": {"year": 2016, "month": 6, "date": 4, "hours": 9, "utc": true}, "type": "temporal", "axis": null},
        "y": {"datum": 2214, "type": "quantitative", "axis": null},
        "text": {"value": "40 week cycle"}
      }
    },
    {
      "data": {"values": [{}]},
      "mark": {"type": "text", "font": "DejaVu Sans Mono", "fontSize": 6.7, "color": "#333333", "align": "left", "baseline": "middle", "dx": 4},
      "encoding": {
        "x": {"datum": {"year": 2016, "month": 1, "date": 3, "hours": 12, "utc": true}, "type": "temporal", "axis": null},
        "y": {"datum": 2208.7, "type": "quantitative", "axis": null},
        "text": {"value": "↯ $SPX (Daily) 2091.00"}
      }
    },
    {
      "data": {"values": [{}]},
      "mark": {"type": "point", "shape": "M-1,-0.25H1V0.25H-1Z", "size": 841, "filled": true, "fill": "white", "stroke": "#111111", "strokeWidth": 1, "opacity": 1, "xOffset": 15, "yOffset": -3},
      "encoding": {
        "x": {"datum": {"year": 2016, "month": 12, "date": 20, "utc": true}, "type": "temporal", "axis": null},
        "y": {"datum": 2091, "type": "quantitative", "axis": null}
      }
    },
    {
      "data": {"values": [{}]},
      "mark": {"type": "text", "fontSize": 7.5, "fontWeight": "bold", "color": "#111111", "align": "center", "baseline": "middle", "xOffset": 15, "yOffset": -3},
      "encoding": {
        "x": {"datum": {"year": 2016, "month": 12, "date": 20, "utc": true}, "type": "temporal", "axis": null},
        "y": {"datum": 2091, "type": "quantitative", "axis": null},
        "text": {"value": "2091.00"}
      }
    }
  ]
},
{
  "width": 584,
  "height": 86,
  "resolve": {"axis": {"x": "independent", "y": "independent"}},
  "layer": [
    {
      "data": {"values": [{}]},
      "mark": {"type": "rect", "fill": {"gradient": "linear", "x1": 0, "y1": 0, "x2": 0, "y2": 1, "stops": [{"offset": 0, "color": "#f4e2c9"}, {"offset": 1, "color": "#eed5b6"}]}}
    },
    {
      "data": {"name": "tsi"},
      "mark": {"type": "line", "color": "#3c9a3c", "strokeWidth": 1.1, "interpolate": "monotone"},
      "encoding": {
        "x": {"field": "d", "type": "temporal", "scale": {"type": "utc", "domain": [{"year": 2016, "month": 1, "date": 3, "hours": 12, "utc": true}, {"year": 2016, "month": 12, "date": 20, "utc": true}]}, "axis": {"orient": "bottom", "grid": true, "tickCount": {"interval": "day", "step": 10}, "labelExpr": "utcdate(datum.value) == 1 ? utcFormat(datum.value, '%b') : ''", "tickSize": 0, "labelPadding": 3, "labelOverlap": false, "labelFlush": false}},
        "y": {"field": "sig", "type": "quantitative", "scale": {"domain": [-58, 60], "nice": false, "zero": false}, "axis": {"orient": "right", "values": [40, 20, 0, -20], "labelOverlap": false, "labelFlush": false, "grid": true, "tickSize": 3, "labelPadding": 1}}
      }
    },
    {
      "data": {"values": [{}]},
      "mark": {"type": "rule", "color": "#7f9a62", "strokeWidth": 1.4, "strokeDash": [7, 2, 2, 2]},
      "encoding": {"y": {"datum": 0, "type": "quantitative", "axis": null}}
    },
    {
      "data": {"name": "tsi"},
      "mark": {"type": "line", "color": "#111111", "strokeWidth": 1.5, "interpolate": "monotone"},
      "encoding": {
        "x": {"field": "d", "type": "temporal", "axis": null},
        "y": {"field": "tsi", "type": "quantitative", "axis": null}
      }
    },
    {
      "data": {"values": [{}]},
      "mark": {"type": "text", "font": "DejaVu Sans Mono", "fontSize": 6.6, "color": "#333333", "align": "left", "baseline": "middle", "dx": 4},
      "encoding": {
        "x": {"datum": {"year": 2016, "month": 1, "date": 3, "hours": 12, "utc": true}, "type": "temporal", "axis": null},
        "y": {"datum": 51.8, "type": "quantitative", "axis": null},
        "text": {"value": "— TSI(13,7,5) -50.41,"}
      }
    },
    {
      "data": {"values": [{}]},
      "mark": {"type": "text", "font": "DejaVu Sans Mono", "fontSize": 6.6, "color": "#3c9a3c", "align": "left", "baseline": "middle", "dx": 91},
      "encoding": {
        "x": {"datum": {"year": 2016, "month": 1, "date": 3, "hours": 12, "utc": true}, "type": "temporal", "axis": null},
        "y": {"datum": 51.8, "type": "quantitative", "axis": null},
        "text": {"value": "-37.94"}
      }
    },
    {
      "data": {"values": [{}]},
      "mark": {"type": "rule", "color": "#2442ee", "strokeWidth": 2.4, "strokeDash": [2, 3]},
      "encoding": {
        "x": {"datum": {"year": 2016, "month": 7, "date": 18, "hours": 7, "utc": true}, "type": "temporal", "axis": null},
        "y": {"datum": 44.9, "type": "quantitative", "axis": null},
        "x2": {"datum": {"year": 2016, "month": 11, "date": 1, "hours": 20, "utc": true}},
        "y2": {"datum": -8.3}
      }
    },
    {
      "data": {"values": [{}]},
      "mark": {"type": "point", "shape": "triangle-right", "angle": 12, "size": 60, "filled": true, "fill": "#2442ee", "opacity": 1},
      "encoding": {
        "x": {"datum": {"year": 2016, "month": 11, "date": 4, "hours": 20, "utc": true}, "type": "temporal", "axis": null},
        "y": {"datum": -9.8, "type": "quantitative", "axis": null}
      }
    },
    {
      "data": {"values": [{}]},
      "mark": {"type": "rule", "color": "#666666", "strokeWidth": 2, "strokeDash": [2, 3]},
      "encoding": {
        "x": {"datum": {"year": 2016, "month": 11, "date": 11, "hours": 11, "utc": true}, "type": "temporal", "axis": null},
        "y": {"datum": 60, "type": "quantitative", "axis": null},
        "x2": {"datum": {"year": 2016, "month": 11, "date": 22, "hours": 22, "utc": true}},
        "y2": {"datum": 32.6}
      }
    },
    {
      "data": {"values": [{}]},
      "mark": {"type": "point", "shape": "M-1,0A1,0.78 0 1 1 1,0A1,0.78 0 1 1 -1,0Z", "size": 529, "filled": true, "fill": "#11ee11", "opacity": 1},
      "encoding": {
        "x": {"datum": {"year": 2016, "month": 11, "date": 4, "hours": 20, "utc": true}, "type": "temporal", "axis": null},
        "y": {"datum": -42.9, "type": "quantitative", "axis": null}
      }
    },
    {
      "data": {"values": [{}]},
      "mark": {"type": "text", "fontSize": 11.5, "color": "#555555", "align": "left", "baseline": "middle"},
      "encoding": {
        "x": {"datum": {"year": 2016, "month": 9, "date": 26, "hours": 17, "utc": true}, "type": "temporal", "axis": null},
        "y": {"datum": 42.2, "type": "quantitative", "axis": null},
        "text": {"value": "Falling TSI"}
      }
    },
    {
      "data": {"values": [{}]},
      "mark": {"type": "text", "fontSize": 11.5, "color": "#555555", "align": "left", "baseline": "middle"},
      "encoding": {
        "x": {"datum": {"year": 2016, "month": 9, "date": 26, "hours": 17, "utc": true}, "type": "temporal", "axis": null},
        "y": {"datum": 23, "type": "quantitative", "axis": null},
        "text": {"value": "(negative"}
      }
    },
    {
      "data": {"values": [{}]},
      "mark": {"type": "text", "fontSize": 10.3, "color": "#555555", "align": "left", "baseline": "middle"},
      "encoding": {
        "x": {"datum": {"year": 2016, "month": 11, "date": 2, "hours": 12, "utc": true}, "type": "temporal", "axis": null},
        "y": {"datum": 18.8, "type": "quantitative", "axis": null},
        "text": {"value": "bottom mid-week"}
      }
    },
    {
      "data": {"values": [{}]},
      "mark": {"type": "point", "shape": "M-1,-0.33H1V0.33H-1Z", "size": 576, "filled": true, "fill": "#dce9ea", "stroke": "#6f9a9a", "strokeWidth": 0.8, "opacity": 1, "xOffset": 13},
      "encoding": {
        "x": {"datum": {"year": 2016, "month": 12, "date": 20, "utc": true}, "type": "temporal", "axis": null},
        "y": {"datum": -37.94, "type": "quantitative", "axis": null}
      }
    },
    {
      "data": {"values": [{}]},
      "mark": {"type": "text", "fontSize": 7.5, "color": "#223333", "align": "center", "baseline": "middle", "xOffset": 13},
      "encoding": {
        "x": {"datum": {"year": 2016, "month": 12, "date": 20, "utc": true}, "type": "temporal", "axis": null},
        "y": {"datum": -37.94, "type": "quantitative", "axis": null},
        "text": {"value": "-37.94"}
      }
    },
    {
      "data": {"values": [{}]},
      "mark": {"type": "point", "shape": "M-1,-0.33H1V0.33H-1Z", "size": 576, "filled": true, "fill": "#dce9ea", "stroke": "#6f9a9a", "strokeWidth": 0.8, "opacity": 1, "xOffset": 13},
      "encoding": {
        "x": {"datum": {"year": 2016, "month": 12, "date": 20, "utc": true}, "type": "temporal", "axis": null},
        "y": {"datum": -50.41, "type": "quantitative", "axis": null}
      }
    },
    {
      "data": {"values": [{}]},
      "mark": {"type": "text", "fontSize": 7.5, "color": "#223333", "align": "center", "baseline": "middle", "xOffset": 13},
      "encoding": {
        "x": {"datum": {"year": 2016, "month": 12, "date": 20, "utc": true}, "type": "temporal", "axis": null},
        "y": {"datum": -50.41, "type": "quantitative", "axis": null},
        "text": {"value": "-50.41"}
      }
    }
  ]
}
]
}
